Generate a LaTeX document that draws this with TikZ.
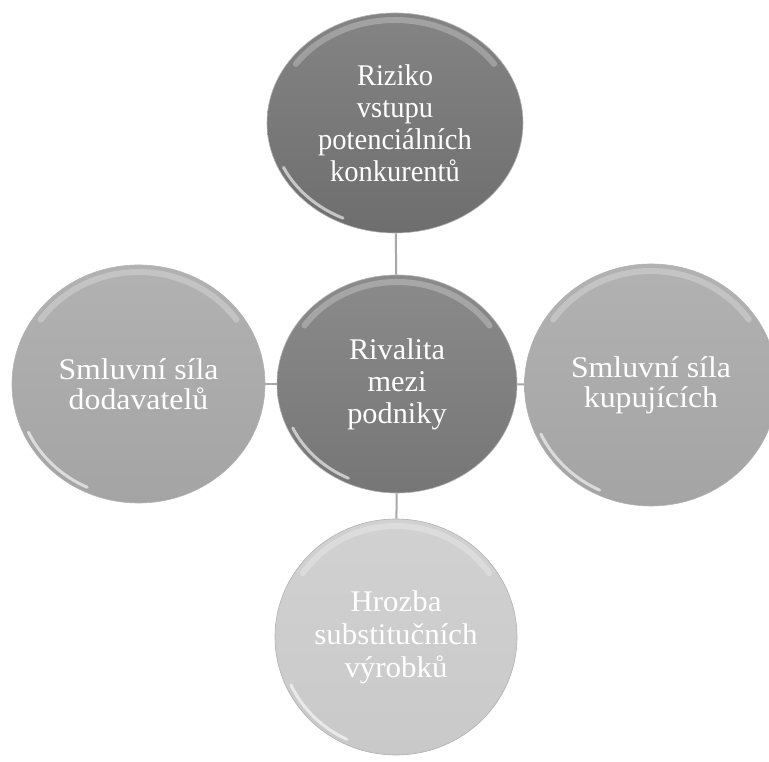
\documentclass[tikz,border=0pt]{standalone}
\usepackage{fontspec}
\setmainfont{Liberation Serif}
\newfontfamily\fontA{Liberation Serif}[FakeStretch=0.95]
\newfontfamily\fontB{Liberation Serif}[FakeStretch=1.01]
\newfontfamily\fontD{Liberation Serif}[FakeStretch=1.03]
\newfontfamily\fontC{Liberation Serif}[FakeStretch=1.06]
\usetikzlibrary{shapes.geometric}
\definecolor{cTop}{HTML}{6E6E6E}
\definecolor{cMid}{HTML}{767676}
\definecolor{cSide}{HTML}{A4A4A4}
\definecolor{cBot}{HTML}{C9C9C9}
\definecolor{cLink}{HTML}{A8A8A8}
\tikzset{
  bubble/.style={ellipse, inner sep=0pt, text=white, align=center, draw=black!30, line width=0.6pt},
  link/.style={draw=cLink, line width=2pt},
  gloss/.style={white, opacity=0.25, line width=6pt, line cap=round},
  glare/.style={white, opacity=0.6, line width=3pt, line cap=round},
  txtA/.style={font=\fontA\fontsize{30}{32}\selectfont},
  txtB/.style={font=\fontB\fontsize{30}{32}\selectfont},
  txtD/.style={font=\fontD\fontsize{30}{33}\selectfont},
  txtC/.style={font=\fontC\fontsize{30}{30}\selectfont},
}
\newcommand\bubblenode[8]{%
  \node[bubble, minimum width=#4pt, minimum height=#5pt, top color=#6!85!white, bottom color=#6, #7] (#1) at (#2,#3) {#8};
  \draw[gloss] ([shift={({(#4/2-7)*cos(35)},{(#5/2-7)*sin(35)})}]#1.center) arc[start angle=35, end angle=145, x radius={#4/2-7}, y radius={#5/2-7}];
  \draw[glare] ([shift={({(#4/2-5)*cos(205)},{(#5/2-5)*sin(205)})}]#1.center) arc[start angle=205, end angle=245, x radius={#4/2-5}, y radius={#5/2-5}];
}
\begin{document}
\begin{tikzpicture}[x=1pt, y=1pt]
\useasboundingbox (0,0) rectangle (769,762);
\clip (0,0) rectangle (769,762);
\bubblenode{top}{395}{639}{256}{220}{cTop}{txtA}{Riziko\\vstupu\\potenciálních\\konkurentů}
\bubblenode{mid}{397}{378}{240}{218}{cMid}{txtB}{Rivalita\\mezi\\podniky}
\bubblenode{left}{138.5}{378}{253}{238}{cSide}{txtC}{Smluvní síla\\dodavatelů}
\bubblenode{right}{651}{377}{253}{242}{cSide}{txtC}{Smluvní síla\\kupujících}
\bubblenode{bot}{396}{125}{242}{236}{cBot}{txtD}{Hrozba\\substitučních\\výrobků}
\draw[link] (mid) -- (top);
\draw[link] (mid) -- (left);
\draw[link] (mid) -- (right);
\draw[link] (mid) -- (bot);
\end{tikzpicture}
\end{document}
